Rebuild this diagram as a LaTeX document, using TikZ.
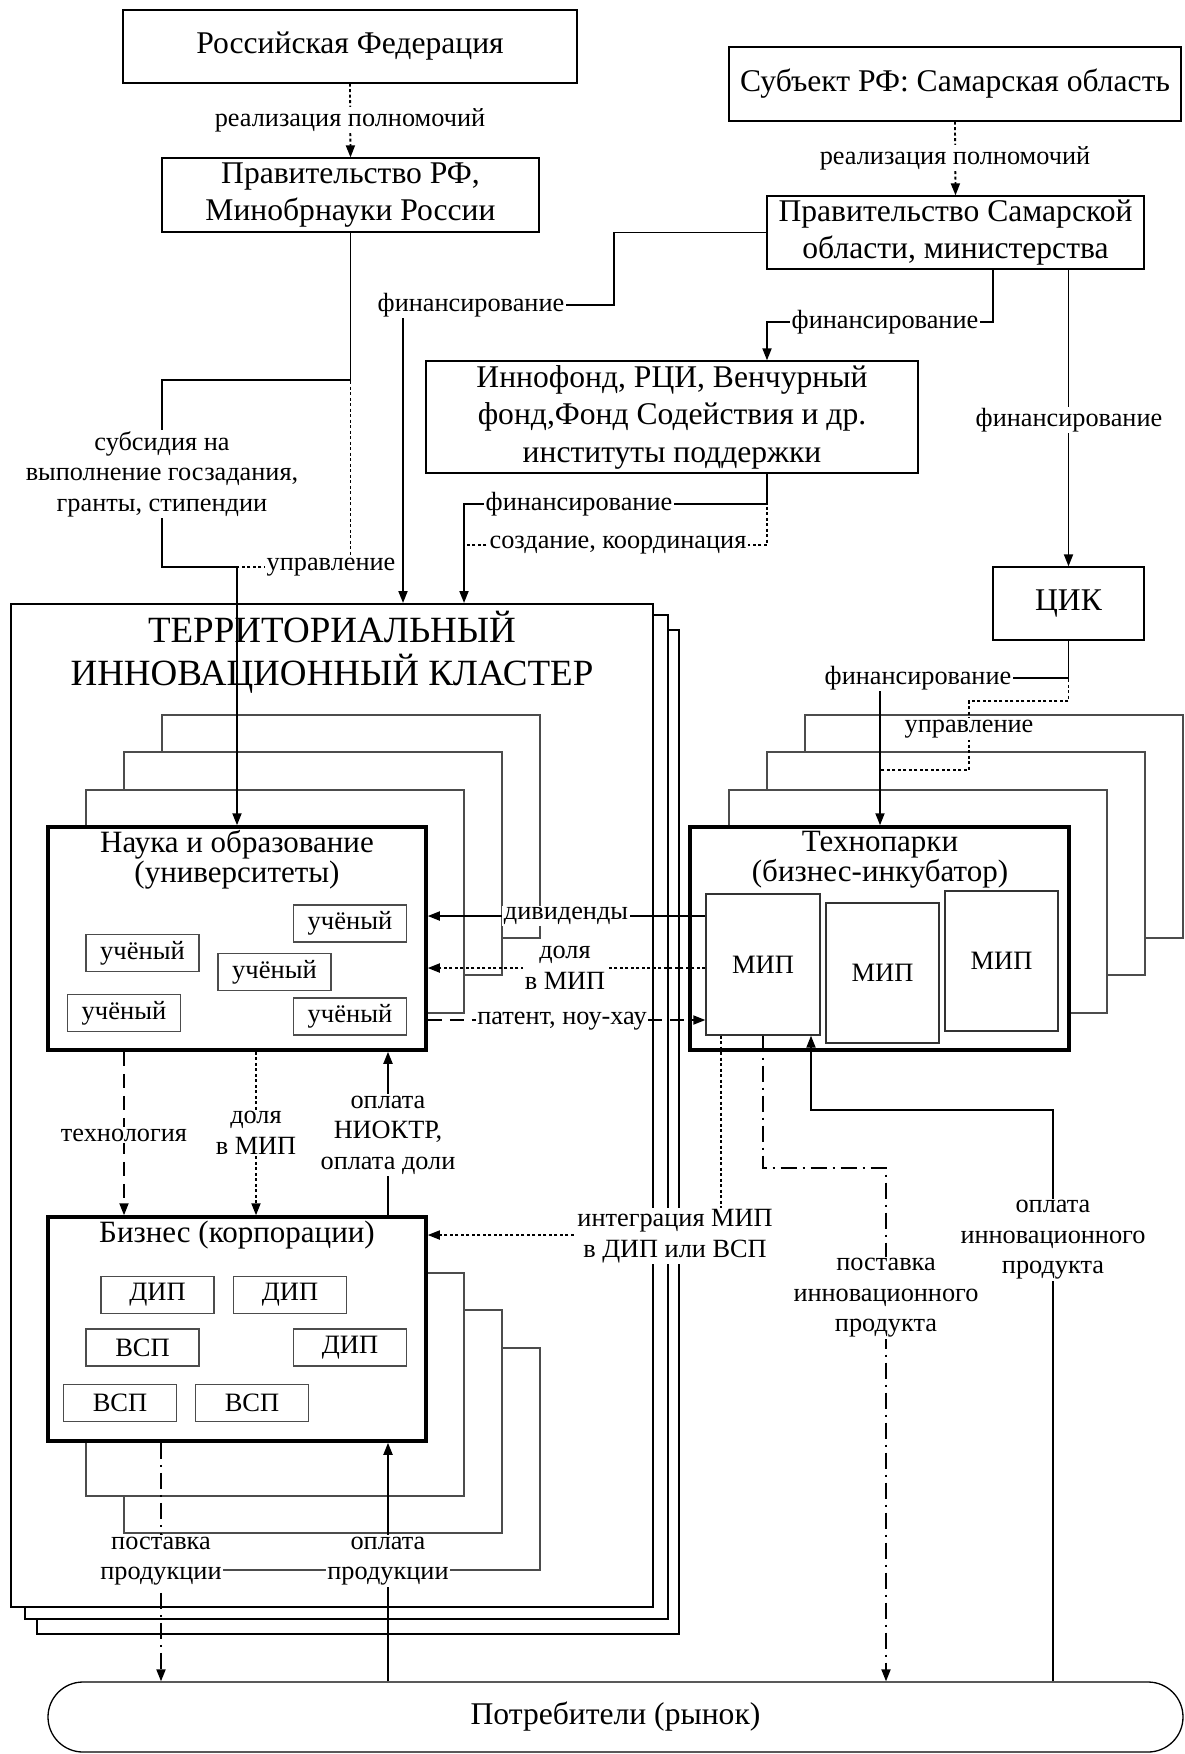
\documentclass[tikz,border=0pt]{standalone}
\usepackage{fontspec}
\setmainfont{Liberation Serif}
\usetikzlibrary{arrows.meta,shapes.misc}

\newcommand\fBox{\fontsize{31.6}{37}\selectfont}
\newcommand\fHead{\fontsize{37}{43.5}\selectfont}
\newcommand\fIn{\fontsize{31}{30}\selectfont}
\newcommand\fLab{\fontsize{26.3}{30.5}\selectfont}
\newcommand\fTag{\fontsize{26.5}{30}\selectfont}

\tikzset{
  box/.style={draw, line width=1.3pt, inner sep=0pt, align=center, font=\fBox},
  heavy/.style={draw, line width=3.5pt, fill=white, inner sep=0pt},
  csheet/.style={draw, line width=2pt, fill=white},
  sheet/.style={draw=black!70, line width=1.3pt, fill=white},
  tag/.style={draw=black!70, line width=1.3pt, inner sep=0pt, font=\fTag,
    minimum width=113pt, minimum height=37pt},
  mipbox/.style={draw=black!80, line width=1.3pt, inner sep=0pt, font=\fTag,
    minimum width=113pt, minimum height=140pt},
  ttl/.style={inner sep=0pt, align=center, font=\fIn},
  lab/.style={fill=white, inner sep=1.5pt, align=center, font=\fLab},
  ln/.style={line width=1.8pt},
  arr/.style={line width=1.8pt, -{Triangle[length=12pt,width=9pt]}},
  dots/.style={dash pattern=on 3pt off 2.5pt},
  dashes/.style={dash pattern=on 14pt off 8pt},
  dashdot/.style={dash pattern=on 16pt off 6pt on 2pt off 6pt},
}

\begin{document}
\begin{tikzpicture}[x=1pt,y=-1pt]
\useasboundingbox (0,0) rectangle (1184,1754);

% ---------- the cluster: three stacked sheets ----------
\draw[csheet] (37,630) rectangle (679,1634);
\draw[csheet] (25,615) rectangle (668,1619);
\node[csheet, inner sep=0pt, minimum width=642pt, minimum height=1003pt] (clu) at (332,1105.5) {};
\node[inner sep=0pt, align=center, font=\fHead] (head) at (332,652)
  {ТЕРРИТОРИАЛЬНЫЙ\\ИННОВАЦИОННЫЙ КЛАСТЕР};

% ---------- science and education ----------
\draw[sheet] (162,715) rectangle (540,938);
\draw[sheet] (124,752) rectangle (502,975);
\draw[sheet] (86,790) rectangle (464,1013);
\node[heavy, minimum width=378pt, minimum height=223pt] (nauka) at (237,938.5) {};
\node[ttl] (naukat) at (237,860) {Наука и образование\\(университеты)};
\node[tag] (u1) at (350,923.5) {учёный};
\node[tag] (u2) at (142.5,953) {учёный};
\node[tag] (u3) at (274.5,972) {учёный};
\node[tag] (u4) at (124,1013) {учёный};
\node[tag] (u5) at (350,1016.5) {учёный};

% ---------- business ----------
\draw[sheet] (162,1348) rectangle (540,1570);
\draw[sheet] (124,1310) rectangle (502,1533);
\draw[sheet] (86,1273) rectangle (464,1496);
\node[heavy, minimum width=378pt, minimum height=224pt] (biz) at (237,1329) {};
\node[ttl] (bizt) at (237,1235) {Бизнес (корпорации)};
\node[tag] (d1) at (157.5,1295) {ДИП};
\node[tag] (d2) at (290,1295) {ДИП};
\node[tag] (v1) at (142.5,1347.5) {ВСП};
\node[tag] (d3) at (350,1347.5) {ДИП};
\node[tag] (v2) at (120,1403) {ВСП};
\node[tag] (v3) at (252,1403) {ВСП};

% ---------- technoparks ----------
\draw[sheet] (805,715) rectangle (1183,938);
\draw[sheet] (767,752) rectangle (1145,975);
\draw[sheet] (729,790) rectangle (1107,1013);
\node[heavy, minimum width=379pt, minimum height=223pt] (tech) at (879.5,938.5) {};
\node[ttl] (techt) at (880,860) {Технопарки\\(бизнес-инкубатор)};
\node[mipbox, minimum width=114pt, minimum height=141pt] (mip1) at (763,964.5) {МИП};
\node[mipbox] (mip2) at (882.5,973) {МИП};
\node[mipbox] (mip3) at (1001.5,961) {МИП};

% ---------- upper boxes ----------
\node[box, minimum width=454pt, minimum height=73pt] (rf) at (350,46.5) {Российская Федерация};
\node[box, minimum width=377pt, minimum height=74pt] (prf) at (350.5,195) {Правительство РФ,\\Минобрнауки России};
\node[box, minimum width=452pt, minimum height=74pt] (subj) at (955,84) {Субъект РФ: Самарская область};
\node[box, minimum width=377pt, minimum height=73pt] (sam) at (955.5,232.5) {Правительство Самарской\\области, министерства};
\node[box, minimum width=492pt, minimum height=112pt, font=\fontsize{31.6}{37.5}\selectfont] (innof) at (672,417)
  {Иннофонд, РЦИ, Венчурный\\фонд,Фонд Содействия и др.\\институты поддержки};
\node[box, minimum width=151pt, minimum height=73pt] (cik) at (1068.5,603.5) {ЦИК};

% ---------- consumers ----------
\node[draw, line width=1.3pt, rounded rectangle, rounded rectangle arc length=180,
  minimum width=1135pt, minimum height=70pt, inner sep=0pt, font=\fBox] (cons) at (615.5,1717)
  {Потребители (рынок)};

% ---------- connectors ----------
\draw[arr, dots] (rf.south) -- (prf.north);
\draw[arr, dots] (subj.south) -- (sam.north);

% federal government
\draw[arr] (prf.south) -- (prf.south |- 0,380) -- (162,380) -- (162,567)
  -- (nauka.north |- 0,567) -- (nauka.north);
\draw[ln, dots] (prf.south) -- (prf.south |- 0,567) -- (nauka.north |- 0,567);

% regional government
\draw[arr] (sam.west) -- (614,232.5) -- (614,305) -- (403,305) -- (clu.north -| 403,0);
\draw[arr] (sam.south -| 993,0) -- (993,322) -- (767,322) -- (innof.north -| 767,0);
\draw[arr] (sam.south -| cik.north) -- (cik.north);

% support institutions
\draw[arr] (innof.south -| 767,0) -- (767,504) -- (464,504) -- (clu.north -| 464,0);
\draw[ln, dots] (innof.south -| 767,0) -- (767,545) -- (464,545);

% innovation centre
\draw[arr] (cik.south) -- (cik.south |- 0,678) -- (880,678) -- (tech.north -| 880,0);
\draw[ln, dots] (cik.south) -- (cik.south |- 0,701) -- (969,701) -- (969,770) -- (880,770);

% science <-> small innovative enterprises
\draw[arr] (mip1.west |- 0,916) -- (nauka.east |- 0,916);
\draw[arr, dots] (mip1.west |- 0,968) -- (nauka.east |- 0,968);
\draw[arr, dashes] (nauka.east |- 0,1020) -- (mip1.west |- 0,1020);

% science <-> business
\draw[arr, dashes] (nauka.south -| 124,0) -- (biz.north -| 124,0);
\draw[arr, dots] (nauka.south -| 256,0) -- (biz.north -| 256,0);
\draw[arr] (biz.north -| 388,0) -- (nauka.south -| 388,0);

% small innovative enterprises -> business, market
\draw[arr, dots] (mip1.south -| 721,0) -- (721,1235) -- (biz.east |- 0,1235);
\draw[arr, dashdot] (mip1.south) -- (mip1.south |- 0,1168) -- (886,1168) -- (cons.north -| 886,0);
\draw[arr] (cons.north -| 1053,0) -- (1053,1110) -- (811,1110) -- (mip1.south -| 811,0);

% business <-> market
\draw[arr, dashdot] (biz.south -| 161,0) -- (cons.north -| 161,0);
\draw[arr] (cons.north -| 388,0) -- (biz.south -| 388,0);

% ---------- connector labels ----------
\node[lab] (l1) at (350,120) {реализация полномочий};
\node[lab] (l2) at (955,158) {реализация полномочий};
\node[lab] (l3) at (471,305) {финансирование};
\node[lab] (l4) at (885,322) {финансирование};
\node[lab] (l5) at (1069,420) {финансирование};
\node[lab] (l6) at (579,504) {финансирование};
\node[lab] (l7) at (618,545) {создание, координация};
\node[lab] (l8) at (162,474) {субсидия на\\выполнение госзадания,\\гранты, стипендии};
\node[lab] (l9) at (331,567) {управление};
\node[lab] (l10) at (918,678) {финансирование};
\node[lab] (l11) at (969,729) {управление};
\node[lab] (l12) at (566,916) {дивиденды};
\node[lab] (l13) at (565,968) {доля\\в МИП};
\node[lab] (l14) at (562,1021) {патент, ноу-хау};
\node[lab] (l15) at (124,1135) {технология};
\node[lab] (l16) at (256,1133) {доля\\в МИП};
\node[lab] (l17) at (388,1135) {оплата\\НИОКТР,\\оплата доли};
\node[lab] (l18) at (675,1236) {интеграция МИП\\в ДИП или ВСП};
\node[lab] (l19) at (886,1298) {поставка\\инновационного\\продукта};
\node[lab] (l20) at (1053,1240) {оплата\\инновационного\\продукта};
\node[lab] (l21) at (161,1561) {поставка\\продукции};
\node[lab] (l22) at (388,1561) {оплата\\продукции};
\end{tikzpicture}
\end{document}
